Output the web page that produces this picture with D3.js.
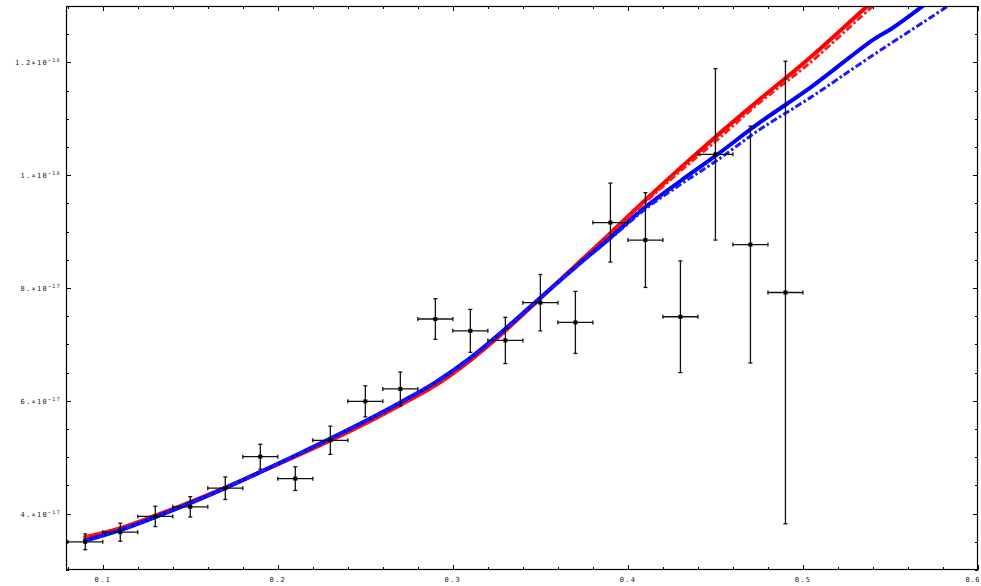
<!DOCTYPE html>
<html>
<head>
<meta charset="utf-8">
<script src="https://cdn.jsdelivr.net/npm/d3@7"></script>
<style>
  html, body { margin: 0; padding: 0; background: #fff; }
  svg { display: block; }
  .lbl { font-family: "DejaVu Sans Mono", monospace; fill: #222; }
</style>
</head>
<body>
<svg id="chart" width="981" height="586"></svg>
<script>
// Measured points with x and y uncertainties
const pointX = [0.09, 0.11, 0.13, 0.15, 0.17, 0.19, 0.21, 0.23, 0.25, 0.27, 0.29,
                0.31, 0.33, 0.35, 0.37, 0.39, 0.41, 0.43, 0.45, 0.47, 0.49];
const pointY = [3.50e-17, 3.67e-17, 3.95e-17, 4.12e-17, 4.45e-17, 5.01e-17, 4.62e-17,
                5.30e-17, 5.99e-17, 6.21e-17, 7.45e-17, 7.24e-17, 7.07e-17, 7.74e-17,
                7.39e-17, 9.16e-17, 8.85e-17, 7.49e-17, 10.37e-17, 8.77e-17, 7.92e-17];
const pointYErr = [0.14e-17, 0.16e-17, 0.18e-17, 0.18e-17, 0.20e-17, 0.22e-17, 0.21e-17,
                   0.25e-17, 0.275e-17, 0.30e-17, 0.36e-17, 0.38e-17, 0.41e-17, 0.50e-17,
                   0.55e-17, 0.70e-17, 0.84e-17, 0.99e-17, 1.52e-17, 2.10e-17, 4.10e-17];
const pointXErr = 0.01;

// Model curves (sampled)
const redSolidX = [0.089, 0.11, 0.13, 0.15, 0.17, 0.19, 0.21, 0.23, 0.25, 0.27, 0.29,
                   0.31, 0.33, 0.35, 0.37, 0.39, 0.41, 0.43, 0.45, 0.475, 0.504, 0.537, 0.541];
const redSolidY = [3.574e-17, 3.742e-17, 3.964e-17, 4.204e-17, 4.462e-17, 4.737e-17,
                   5.012e-17, 5.297e-17, 5.599e-17, 5.927e-17, 6.274e-17, 6.718e-17,
                   7.242e-17, 7.819e-17, 8.396e-17, 8.973e-17, 9.559e-17, 10.128e-17,
                   10.678e-17, 11.336e-17, 12.082e-17, 13.005e-17, 13.112e-17];

const redDashX = [0.089, 0.11, 0.13, 0.15, 0.17, 0.19, 0.21, 0.23, 0.25, 0.27, 0.29,
                  0.31, 0.33, 0.35, 0.37, 0.39, 0.41, 0.43, 0.45, 0.475, 0.504, 0.541, 0.545];
const redDashY = [3.574e-17, 3.742e-17, 3.964e-17, 4.204e-17, 4.462e-17, 4.737e-17,
                  5.012e-17, 5.297e-17, 5.599e-17, 5.927e-17, 6.274e-17, 6.718e-17,
                  7.242e-17, 7.819e-17, 8.390e-17, 8.956e-17, 9.524e-17, 10.075e-17,
                  10.599e-17, 11.282e-17, 11.993e-17, 13.023e-17, 13.110e-17];

const blueSolidX = [0.089, 0.11, 0.13, 0.15, 0.17, 0.19, 0.21, 0.23, 0.25, 0.27, 0.29,
                    0.31, 0.33, 0.35, 0.37, 0.39, 0.41, 0.43, 0.45, 0.475, 0.504, 0.54,
                    0.551, 0.571];
const blueSolidY = [3.512e-17, 3.707e-17, 3.938e-17, 4.187e-17, 4.453e-17, 4.737e-17,
                    5.030e-17, 5.332e-17, 5.643e-17, 5.972e-17, 6.327e-17, 6.762e-17,
                    7.277e-17, 7.828e-17, 8.369e-17, 8.893e-17, 9.435e-17, 9.897e-17,
                    10.341e-17, 10.927e-17, 11.549e-17, 12.401e-17, 12.606e-17, 13.059e-17];

const blueDashX = [0.089, 0.11, 0.13, 0.15, 0.17, 0.19, 0.21, 0.23, 0.25, 0.27, 0.29,
                   0.31, 0.33, 0.35, 0.37, 0.39, 0.41, 0.43, 0.45, 0.475, 0.504, 0.538,
                   0.584, 0.588];
const blueDashY = [3.512e-17, 3.707e-17, 3.938e-17, 4.187e-17, 4.453e-17, 4.737e-17,
                   5.030e-17, 5.332e-17, 5.643e-17, 5.972e-17, 6.327e-17, 6.762e-17,
                   7.277e-17, 7.828e-17, 8.365e-17, 8.876e-17, 9.400e-17, 9.835e-17,
                   10.243e-17, 10.803e-17, 11.371e-17, 12.087e-17, 13.023e-17, 13.110e-17];

// Axis ticks and labels
const xMajorTicks = [0.1, 0.2, 0.3, 0.4, 0.5, 0.6];
const xTickLabels = ["0.1", "0.2", "0.3", "0.4", "0.5", "0.6"];
const yMajorTicks = [4e-17, 6e-17, 8e-17, 1e-16, 1.2e-16];
const yTickMantissa = ["4.", "6.", "8.", "1.", "1.2"];
const yTickExponent = ["-17", "-17", "-17", "-16", "-16"];

const W = 981, H = 586;
const margin = { left: 66, right: 3, top: 6, bottom: 16 };
const svg = d3.select("#chart");

const x = d3.scaleLinear().domain([0.079, 0.6]).range([margin.left, W - margin.right]);
const y = d3.scaleLinear().domain([3e-17, 1.3e-16]).range([H - margin.bottom, margin.top]);

svg.append("defs").append("clipPath").attr("id", "plotclip")
  .append("rect")
  .attr("x", margin.left).attr("y", margin.top)
  .attr("width", W - margin.left - margin.right)
  .attr("height", H - margin.top - margin.bottom);

const plot = svg.append("g").attr("clip-path", "url(#plotclip)");

const line = d3.line()
  .x(d => x(d[0]))
  .y(d => y(d[1]))
  .curve(d3.curveCatmullRom.alpha(0.5));

const curves = [
  { xs: redSolidX, ys: redSolidY, color: "#ff0000", width: 4, dash: null },
  { xs: redDashX, ys: redDashY, color: "#ff1a1a", width: 3, dash: "7,2.5,2.5,2.5" },
  { xs: blueSolidX, ys: blueSolidY, color: "#0000ff", width: 4, dash: null },
  { xs: blueDashX, ys: blueDashY, color: "#1a1aff", width: 3, dash: "7,2.5,2.5,2.5" }
];

curves.forEach(c => {
  plot.append("path")
    .datum(d3.zip(c.xs, c.ys))
    .attr("d", line)
    .attr("fill", "none")
    .attr("stroke", c.color)
    .attr("stroke-width", c.width)
    .attr("stroke-dasharray", c.dash)
    .attr("stroke-linejoin", "round");
});

// Error bars
const pts = pointX.map((px, i) => ({ x: px, y: pointY[i], ey: pointYErr[i] }));
const eb = plot.append("g").attr("stroke", "#111").attr("stroke-width", 1.3);

pts.forEach(p => {
  const cx = x(p.x), cy = y(p.y);
  const x0 = x(p.x - pointXErr), x1 = x(p.x + pointXErr);
  const y0 = y(p.y - p.ey), y1 = y(p.y + p.ey);
  eb.append("line").attr("x1", x0).attr("x2", x1).attr("y1", cy).attr("y2", cy);
  eb.append("line").attr("x1", x0).attr("x2", x0).attr("y1", cy - 2).attr("y2", cy + 2);
  eb.append("line").attr("x1", x1).attr("x2", x1).attr("y1", cy - 2).attr("y2", cy + 2);
  eb.append("line").attr("x1", cx).attr("x2", cx).attr("y1", y0).attr("y2", y1);
  eb.append("line").attr("x1", cx - 2).attr("x2", cx + 2).attr("y1", y0).attr("y2", y0);
  eb.append("line").attr("x1", cx - 2).attr("x2", cx + 2).attr("y1", y1).attr("y2", y1);
  plot.append("rect")
    .attr("x", cx - 2).attr("y", cy - 2)
    .attr("width", 4).attr("height", 4)
    .attr("fill", "#000");
});

// Frame with inward ticks on all sides
const x0p = margin.left, x1p = W - margin.right, y0p = margin.top, y1p = H - margin.bottom;

const xMinor = d3.range(0.08, 0.6001, 0.02).map(v => +v.toFixed(3))
  .filter(v => !xMajorTicks.some(t => Math.abs(t - v) < 1e-9));
const yMinor = d3.range(3e-17, 1.3001e-16, 0.5e-17)
  .filter(v => !yMajorTicks.some(t => Math.abs(t - v) < 1e-22));

const axes = svg.append("g").attr("stroke", "#000").attr("stroke-width", 1);

function tickLen(major) { return major ? 5 : 3; }

[[xMajorTicks, true], [xMinor, false]].forEach(([ticks, major]) => {
  ticks.forEach(t => {
    const px = Math.round(x(t)) + 0.5;
    axes.append("line").attr("x1", px).attr("x2", px).attr("y1", y1p).attr("y2", y1p - tickLen(major));
    axes.append("line").attr("x1", px).attr("x2", px).attr("y1", y0p).attr("y2", y0p + tickLen(major));
  });
});
[[yMajorTicks, true], [yMinor, false]].forEach(([ticks, major]) => {
  ticks.forEach(t => {
    const py = Math.round(y(t)) + 0.5;
    axes.append("line").attr("x1", x0p).attr("x2", x0p + tickLen(major)).attr("y1", py).attr("y2", py);
    axes.append("line").attr("x1", x1p).attr("x2", x1p - tickLen(major)).attr("y1", py).attr("y2", py);
  });
});

axes.append("rect")
  .attr("x", x0p + 0.5).attr("y", y0p + 0.5)
  .attr("width", x1p - x0p - 1).attr("height", y1p - y0p - 1)
  .attr("fill", "none").attr("stroke-width", 1.2);

// Tick labels (the last x label is kept inside the page edge)
const labels = svg.append("g").attr("class", "lbl");

xMajorTicks.forEach((t, i) => {
  const last = i === xMajorTicks.length - 1;
  labels.append("text")
    .attr("x", last ? W - 1 : x(t)).attr("y", y1p + 12)
    .attr("text-anchor", last ? "end" : "middle")
    .attr("font-size", 7)
    .attr("letter-spacing", last ? 0.6 : 1.3)
    .text(xTickLabels[i]);
});

yMajorTicks.forEach((t, i) => {
  const txt = labels.append("text")
    .attr("x", x0p - 5).attr("y", y(t) + 3)
    .attr("text-anchor", "end")
    .attr("font-size", 7)
    .attr("letter-spacing", 1.3);
  txt.append("tspan").text(yTickMantissa[i] + "\u00d710");
  txt.append("tspan")
    .attr("dy", -3)
    .attr("font-size", 5)
    .text(yTickExponent[i].replace("-", "\u2212"));
});
</script>
</body>
</html>
